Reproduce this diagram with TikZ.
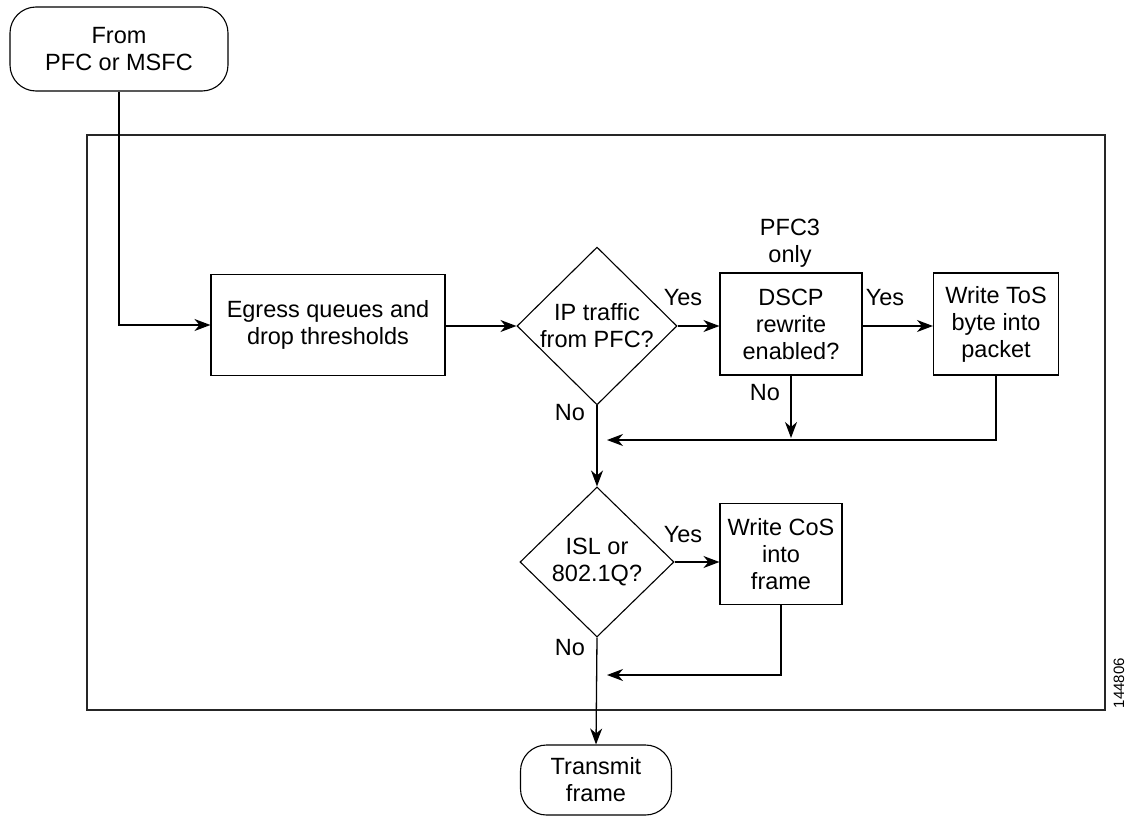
\documentclass[tikz,border=0pt]{standalone}
\usepackage{fontspec}
\setmainfont{Liberation Sans}
\usetikzlibrary{arrows.meta, shapes.geometric}
\tikzset{>={Stealth[length=16pt, width=12pt, inset=5pt]}}
\tikzstyle{terminal} = [rectangle, rounded corners = 26pt, align = center, inner sep = 0pt, draw = black]
\tikzstyle{process} = [rectangle, align = center, inner sep = 0pt, draw = black]
\tikzstyle{decision} = [diamond, align = center, inner sep = 0pt, draw = black]
\tikzstyle{answer} = [align = center, inner sep = 0pt]
\tikzstyle{flow} = [->, line width = 1.3pt]

\begin{document}
\begin{tikzpicture}[x = 1pt, y = -1pt, line width = 1.1pt, font = \fontsize{23.5}{27}\selectfont]
    \useasboundingbox (0,0) rectangle (1134,816);
    \draw [black!85] (87,135) rectangle (1105,710);

    \node (source) [terminal, minimum width = 218pt, minimum height = 84pt] at (119,49) {From\\PFC or MSFC};
    \node (egress) [process, minimum width = 234pt, minimum height = 101pt] at (328,325) {Egress queues and\\drop thresholds};
    \node (iptraffic) [decision, minimum width = 160pt, minimum height = 154pt] at (597,326) {IP traffic\\from PFC?};
    \node (dscp) [process, minimum width = 142pt, minimum height = 102pt] at (791,324) {DSCP\\rewrite\\enabled?};
    \node (tos) [process, minimum width = 125pt, minimum height = 102pt] at (996,324) {Write ToS\\byte into\\packet};
    \node (trunk) [decision, minimum width = 154pt, minimum height = 150pt] at (597,562) {ISL or\\802.1Q?};
    \node (cos) [process, minimum width = 122pt, minimum height = 101pt] at (781,554) {Write CoS\\into\\frame};
    \node (transmit) [terminal, minimum width = 151pt, minimum height = 70pt] at (596,780) {Transmit\\frame};

    \node (pfconly) [answer] at (790,243) {PFC3\\only};
    \node (yesip) [answer] at (683,298) {Yes};
    \node (yesdscp) [answer] at (885,298) {Yes};
    \node (yestrunk) [answer] at (683,535) {Yes};
    \node (noip) [answer] at (570,413) {No};
    \node (nodscp) [answer] at (765,393) {No};
    \node (notrunk) [answer] at (570,648) {No};
    \node (figid) [answer, rotate = 90, font = \fontsize{15}{18}\selectfont] at (1119,683) {144806};

    \coordinate (mergetop) at (607,440);
    \coordinate (dscpend) at (791,438);
    \coordinate (mergelow) at (607,675);

    \draw [flow] (source.south) |- (egress.west);
    \draw [flow] (egress.east |- iptraffic.west) -- (iptraffic.west);
    \draw [flow] (iptraffic.east) -- (iptraffic.east -| dscp.west);
    \draw [flow] (iptraffic.east -| dscp.east) -- (iptraffic.east -| tos.west);
    \draw [flow] (dscp.south) -- (dscpend);
    \draw [flow] (tos.south) |- (mergetop);
    \draw [flow] (iptraffic.south) -- (trunk.north);
    \draw [flow] (trunk.east) -- (trunk.east -| cos.west);
    \draw [flow] (cos.south) |- (mergelow);
    \draw [flow] (trunk.south) -- (transmit.north);
\end{tikzpicture}
\end{document}
